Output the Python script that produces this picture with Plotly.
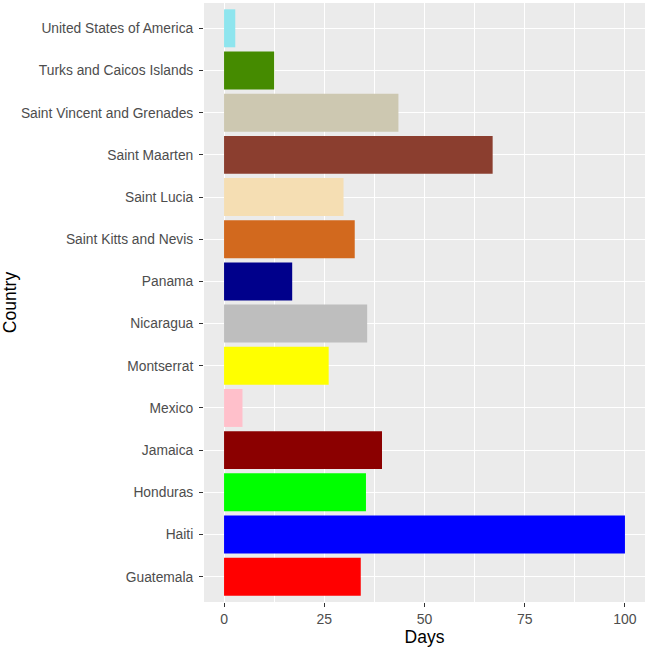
import plotly.graph_objects as go

countries = ["Guatemala", "Haiti", "Honduras", "Jamaica", "Mexico", "Montserrat",
             "Nicaragua", "Panama", "Saint Kitts and Nevis", "Saint Lucia",
             "Saint Maarten", "Saint Vincent and Grenades", "Turks and Caicos Islands",
             "United States of America"]
days = [34.1, 100, 35.4, 39.4, 4.6, 26.1, 35.7, 17, 32.6, 29.8, 67, 43.5, 12.5, 2.8]
colors = ["#FF0000", "#0000FF", "#00FF00", "#8B0000", "#FFC0CB", "#FFFF00",
          "#BEBEBE", "#00008B", "#D2691E", "#F5DEB3", "#8B3E2F", "#CDC8B1",
          "#458B00", "#8EE5EE"]
x_ticks = [0, 25, 50, 75, 100]

fig = go.Figure(go.Bar(
    x=days, y=countries, orientation="h",
    marker=dict(color=colors, line=dict(width=0)),
    width=0.9, showlegend=False,
))

fig.update_layout(
    width=647, height=648,
    margin=dict(l=204, r=2, t=3, b=46, autoexpand=False),
    paper_bgcolor="white", plot_bgcolor="#EBEBEB",
    font=dict(family="Liberation Sans, Arial, sans-serif", color="#4D4D4D", size=14),
    bargap=0.1,
)
fig.update_xaxes(
    range=[-5, 105], tickvals=x_ticks, ticktext=[str(v) for v in x_ticks],
    showgrid=True, gridcolor="white", gridwidth=1.4, zeroline=False,
    minor=dict(tickvals=[12.5, 37.5, 62.5, 87.5], showgrid=True, gridcolor="white", gridwidth=0.7),
    ticks="outside", ticklen=4, tickwidth=1, tickcolor="#333333",
    tickfont=dict(size=14, color="#4D4D4D"), ticklabelstandoff=0,
    title=dict(text="Days", font=dict(size=17.5, color="black"), standoff=2),
    showline=False, automargin=False,
)
fig.update_yaxes(
    categoryorder="array", categoryarray=countries, range=[-0.6, 13.6],
    showgrid=True, gridcolor="white", gridwidth=1.4, zeroline=False,
    ticks="outside", ticklen=4, tickwidth=1, tickcolor="#333333",
    tickfont=dict(size=13.8, color="#4D4D4D"), ticklabelstandoff=3,
    title=dict(text="Country", font=dict(size=17.5, color="black"), standoff=3),
    showline=False, automargin=False,
)

fig.write_html("out.html", config={"displayModeBar": False},
               post_script="document.body.style.margin='0';")
